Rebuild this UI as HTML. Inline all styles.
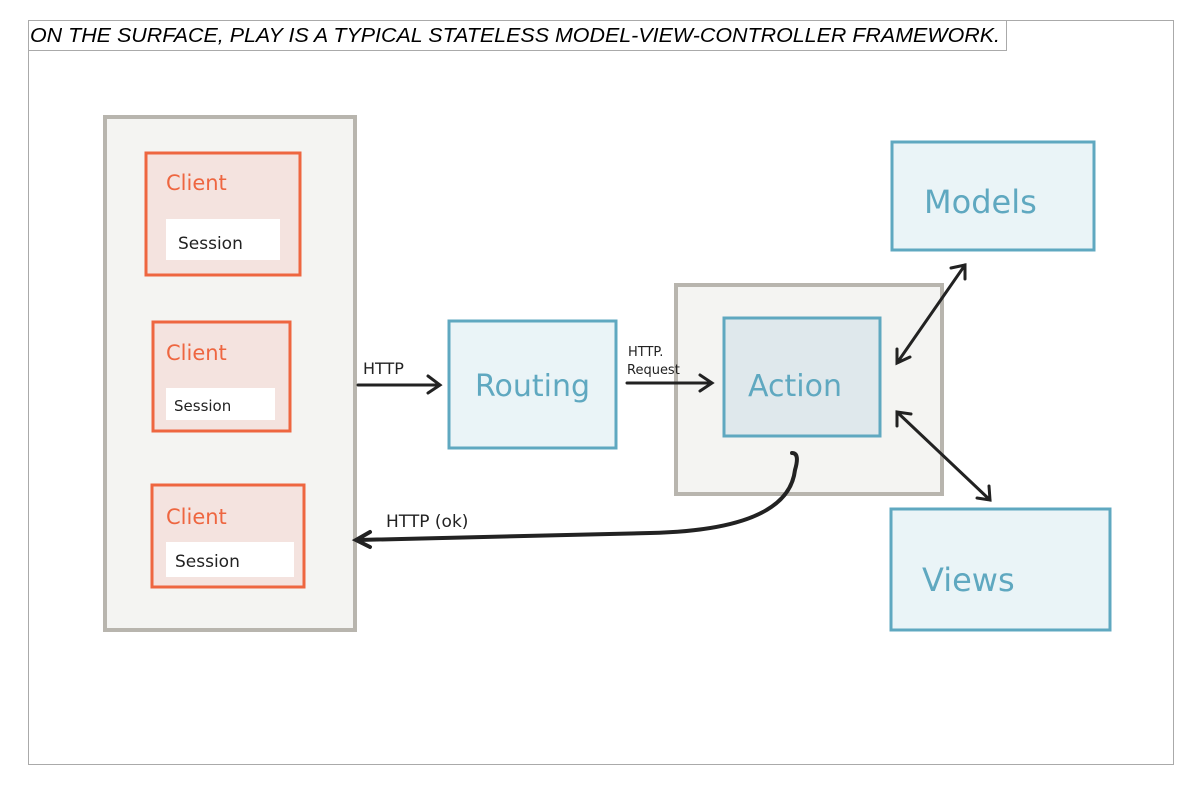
<!DOCTYPE html>
<html><head><style>
html,body{margin:0;padding:0;background:#fff;}
body{width:1200px;height:783px;position:relative;overflow:hidden;}
</style></head><body>
<svg width="1200" height="783" xmlns="http://www.w3.org/2000/svg">
<rect x="28.5" y="20.5" width="1145" height="744" fill="#fff" stroke="#aaa" stroke-width="1"/>
<rect x="28.5" y="20.5" width="978" height="30" fill="#fff" stroke="#aaa" stroke-width="1"/>
<text x="30" y="42" font-family="Liberation Sans, sans-serif" font-style="italic" font-size="20" textLength="970" lengthAdjust="spacingAndGlyphs">ON THE SURFACE, PLAY IS A TYPICAL STATELESS MODEL-VIEW-CONTROLLER FRAMEWORK.</text>
<g font-family="DejaVu Sans, sans-serif" font-weight="normal">
<rect x="105" y="117" width="250" height="513" fill="#f4f4f2" stroke="#b8b5ae" stroke-width="4"/>
<rect x="146" y="153" width="154" height="122" fill="#f4e3df" stroke="#ee6640" stroke-width="3"/>
<rect x="166" y="219" width="114" height="41" fill="#fff"/>
<text x="166" y="190" fill="#ee6640" font-size="21">Client</text>
<text x="178" y="249" fill="#222" font-size="17">Session</text>
<rect x="153" y="322" width="137" height="109" fill="#f4e3df" stroke="#ee6640" stroke-width="3"/>
<rect x="166" y="388" width="109" height="32" fill="#fff"/>
<text x="166" y="360" fill="#ee6640" font-size="21">Client</text>
<text x="174" y="411" fill="#222" font-size="15">Session</text>
<rect x="152" y="485" width="152" height="102" fill="#f4e3df" stroke="#ee6640" stroke-width="3"/>
<rect x="166" y="542" width="128" height="35" fill="#fff"/>
<text x="166" y="524" fill="#ee6640" font-size="21">Client</text>
<text x="175" y="567" fill="#222" font-size="17">Session</text>
<rect x="449" y="321" width="167" height="127" fill="#eaf4f7" stroke="#5fa8c0" stroke-width="3"/>
<text x="475" y="396" fill="#5fa8c0" font-size="30">Routing</text>
<rect x="676" y="285" width="266" height="209" fill="#f4f4f2" stroke="#b8b5ae" stroke-width="4"/>
<rect x="724" y="318" width="156" height="118" fill="#dfe8ec" stroke="#5fa8c0" stroke-width="3"/>
<text x="748" y="396" fill="#5fa8c0" font-size="30">Action</text>
<rect x="892" y="142" width="202" height="108" fill="#eaf4f7" stroke="#5fa8c0" stroke-width="3"/>
<text x="924" y="213" fill="#5fa8c0" font-size="32">Models</text>
<rect x="891" y="509" width="219" height="121" fill="#eaf4f7" stroke="#5fa8c0" stroke-width="3"/>
<text x="922" y="591" fill="#5fa8c0" font-size="32">Views</text>
<g stroke="#222" stroke-width="3" fill="none" stroke-linecap="round">
<path d="M358 385 L440 385 M428 376 L440 385 L428 393"/>
<path d="M627 383 L712 383 M700 375 L712 383 L700 391"/>
<path d="M965 265 L897 363 M951 268 L965 265 L965 279 M897 349 L897 363 L910 357"/>
<path d="M897 412 L990 500 M897 426 L897 412 L911 414 M989 486 L990 500 L977 498"/>
<path stroke-width="4" d="M792 453 Q800 453 795 470 Q788 530 650 533 L358 540 M370 532 L356 540 L370 547"/>
</g>
<text x="363" y="374" fill="#222" font-size="16">HTTP</text>
<text x="628" y="356" fill="#222" font-size="13">HTTP.</text>
<text x="627" y="374" fill="#222" font-size="13">Request</text>
<text x="386" y="527" fill="#222" font-size="17">HTTP (ok)</text>
</g>
</svg>
</body></html>
